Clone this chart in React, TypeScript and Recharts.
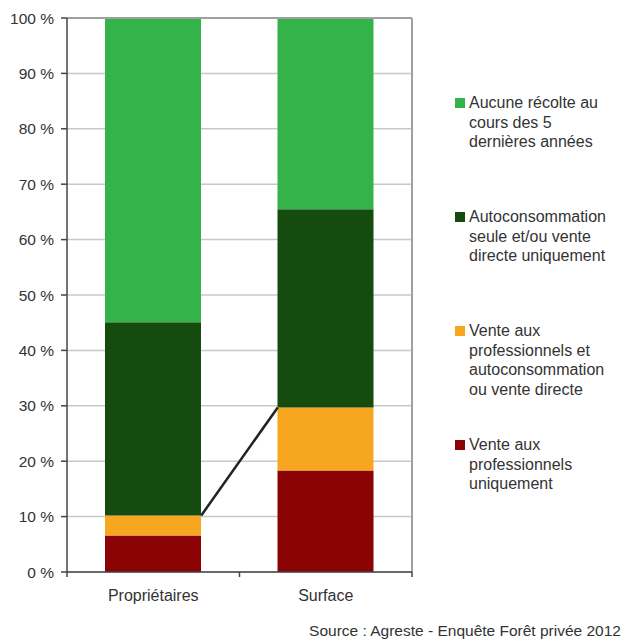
import React from 'react';
import { BarChart, Bar, XAxis, YAxis, CartesianGrid, ReferenceLine } from 'recharts';

const categories = ['Propriétaires', 'Surface'];
const venteProUniquement = [6.6, 18.3];
const venteProEtAuto = [3.6, 11.4];
const autoconsommation = [34.9, 35.8];
const aucuneRecolte = [54.9, 34.5];
const yTicks = [0, 10, 20, 30, 40, 50, 60, 70, 80, 90, 100];
const seriesNames = [
  'Aucune récolte au\ncours des 5\ndernières années',
  'Autoconsommation\nseule et/ou vente\ndirecte uniquement',
  'Vente aux\nprofessionnels et\nautoconsommation\nou vente directe',
  'Vente aux\nprofessionnels\nuniquement',
];
const seriesColors = ['#33b34a', '#154b0f', '#f6a71f', '#8b0305'];
const sourceText = 'Source : Agreste - Enquête Forêt privée 2012';

const data = categories.map((name, i) => ({
  name,
  red: venteProUniquement[i],
  orange: venteProEtAuto[i],
  dark: autoconsommation[i],
  light: aucuneRecolte[i],
}));

const FONT = '"Liberation Sans", Arial, sans-serif';
const W = 632;
const H = 642;
const LEFT = 67;
const RIGHT = 220;
const BAR = 96;
const plotW = W - LEFT - RIGHT;
const halfFrac = BAR / 2 / plotW;
const n = categories.length;

const XTick = (props: any) => {
  const { x, y, payload } = props;
  const v = payload.value;
  const k = v * n;
  if (Math.abs(k - Math.round(k)) < 1e-6) {
    return <line x1={x} x2={x} y1={y} y2={y + 5} stroke="#444" strokeWidth={1.5} />;
  }
  return (
    <text x={x} y={y + 29} textAnchor="middle" fill="#333" fontSize={16} fontFamily={FONT}>
      {categories[Math.floor(k)]}
    </text>
  );
};

const LegendBlock = () => (
  <div style={{ position: 'absolute', left: 455, top: 93, width: 177, height: 420 }}>
    {seriesNames.map((nm, i) => (
      <div key={i} style={{ position: 'absolute', left: 0, top: i * 114, display: 'flex', alignItems: 'flex-start' }}>
        <div style={{ width: 10, height: 10, background: seriesColors[i], marginTop: 5, marginRight: 4, flex: 'none' }} />
        <div style={{ whiteSpace: 'pre', fontSize: 16, lineHeight: '19.6px', color: '#333', fontFamily: FONT }}>{nm}</div>
      </div>
    ))}
  </div>
);

const xTicks = [0, 0.25, 0.5, 0.75, 1];

export default function App() {
  return (
    <div style={{ position: 'absolute', left: 0, top: 0, width: W, height: H, background: '#fff' }}>
      <BarChart width={W} height={H} data={data} margin={{ top: 18, right: RIGHT, bottom: 40, left: 0 }}>
        <CartesianGrid vertical={false} stroke="#c8c8c8" strokeWidth={1.5} />
        <XAxis
          xAxisId="n"
          type="number"
          domain={[0, 1]}
          ticks={xTicks}
          interval={0}
          allowDataOverflow
          height={30}
          tickLine={false}
          tickSize={0}
          tickMargin={0}
          axisLine={{ stroke: '#444', strokeWidth: 1.5 }}
          tick={<XTick />}
        />
        <XAxis xAxisId="cat" dataKey="name" hide height={0} />
        <YAxis
          width={LEFT}
          domain={[0, 100]}
          ticks={yTicks}
          interval={0}
          tickFormatter={(v: number) => `${v} %`}
          tick={{ fill: '#333', fontSize: 15.5, fontFamily: FONT }}
          tickSize={6}
          tickMargin={7}
          axisLine={{ stroke: '#444', strokeWidth: 1.5 }}
          tickLine={{ stroke: '#444', strokeWidth: 1.5 }}
        />
        <ReferenceLine xAxisId="n" y={100} stroke="#a0a0a0" strokeWidth={2} />
        <ReferenceLine xAxisId="n" x={1} stroke="#a0a0a0" strokeWidth={2} />
        <Bar xAxisId="cat" dataKey="red" stackId="a" fill={seriesColors[3]} barSize={BAR} isAnimationActive={false} />
        <Bar xAxisId="cat" dataKey="orange" stackId="a" fill={seriesColors[2]} barSize={BAR} isAnimationActive={false} />
        <Bar xAxisId="cat" dataKey="dark" stackId="a" fill={seriesColors[1]} barSize={BAR} isAnimationActive={false} />
        <Bar xAxisId="cat" dataKey="light" stackId="a" fill={seriesColors[0]} barSize={BAR} isAnimationActive={false} />
        <ReferenceLine
          xAxisId="n"
          segment={[
            { x: 0.5 / n + halfFrac, y: venteProUniquement[0] + venteProEtAuto[0] },
            { x: 1.5 / n - halfFrac, y: venteProUniquement[1] + venteProEtAuto[1] },
          ]}
          stroke="#222"
          strokeWidth={2.5}
        />
      </BarChart>
      <LegendBlock />
      <div
        style={{
          position: 'absolute',
          right: 11,
          top: 622,
          fontSize: 15.5,
          lineHeight: '18px',
          color: '#333',
          fontFamily: FONT,
          whiteSpace: 'nowrap',
        }}
      >
        {sourceText}
      </div>
    </div>
  );
}
